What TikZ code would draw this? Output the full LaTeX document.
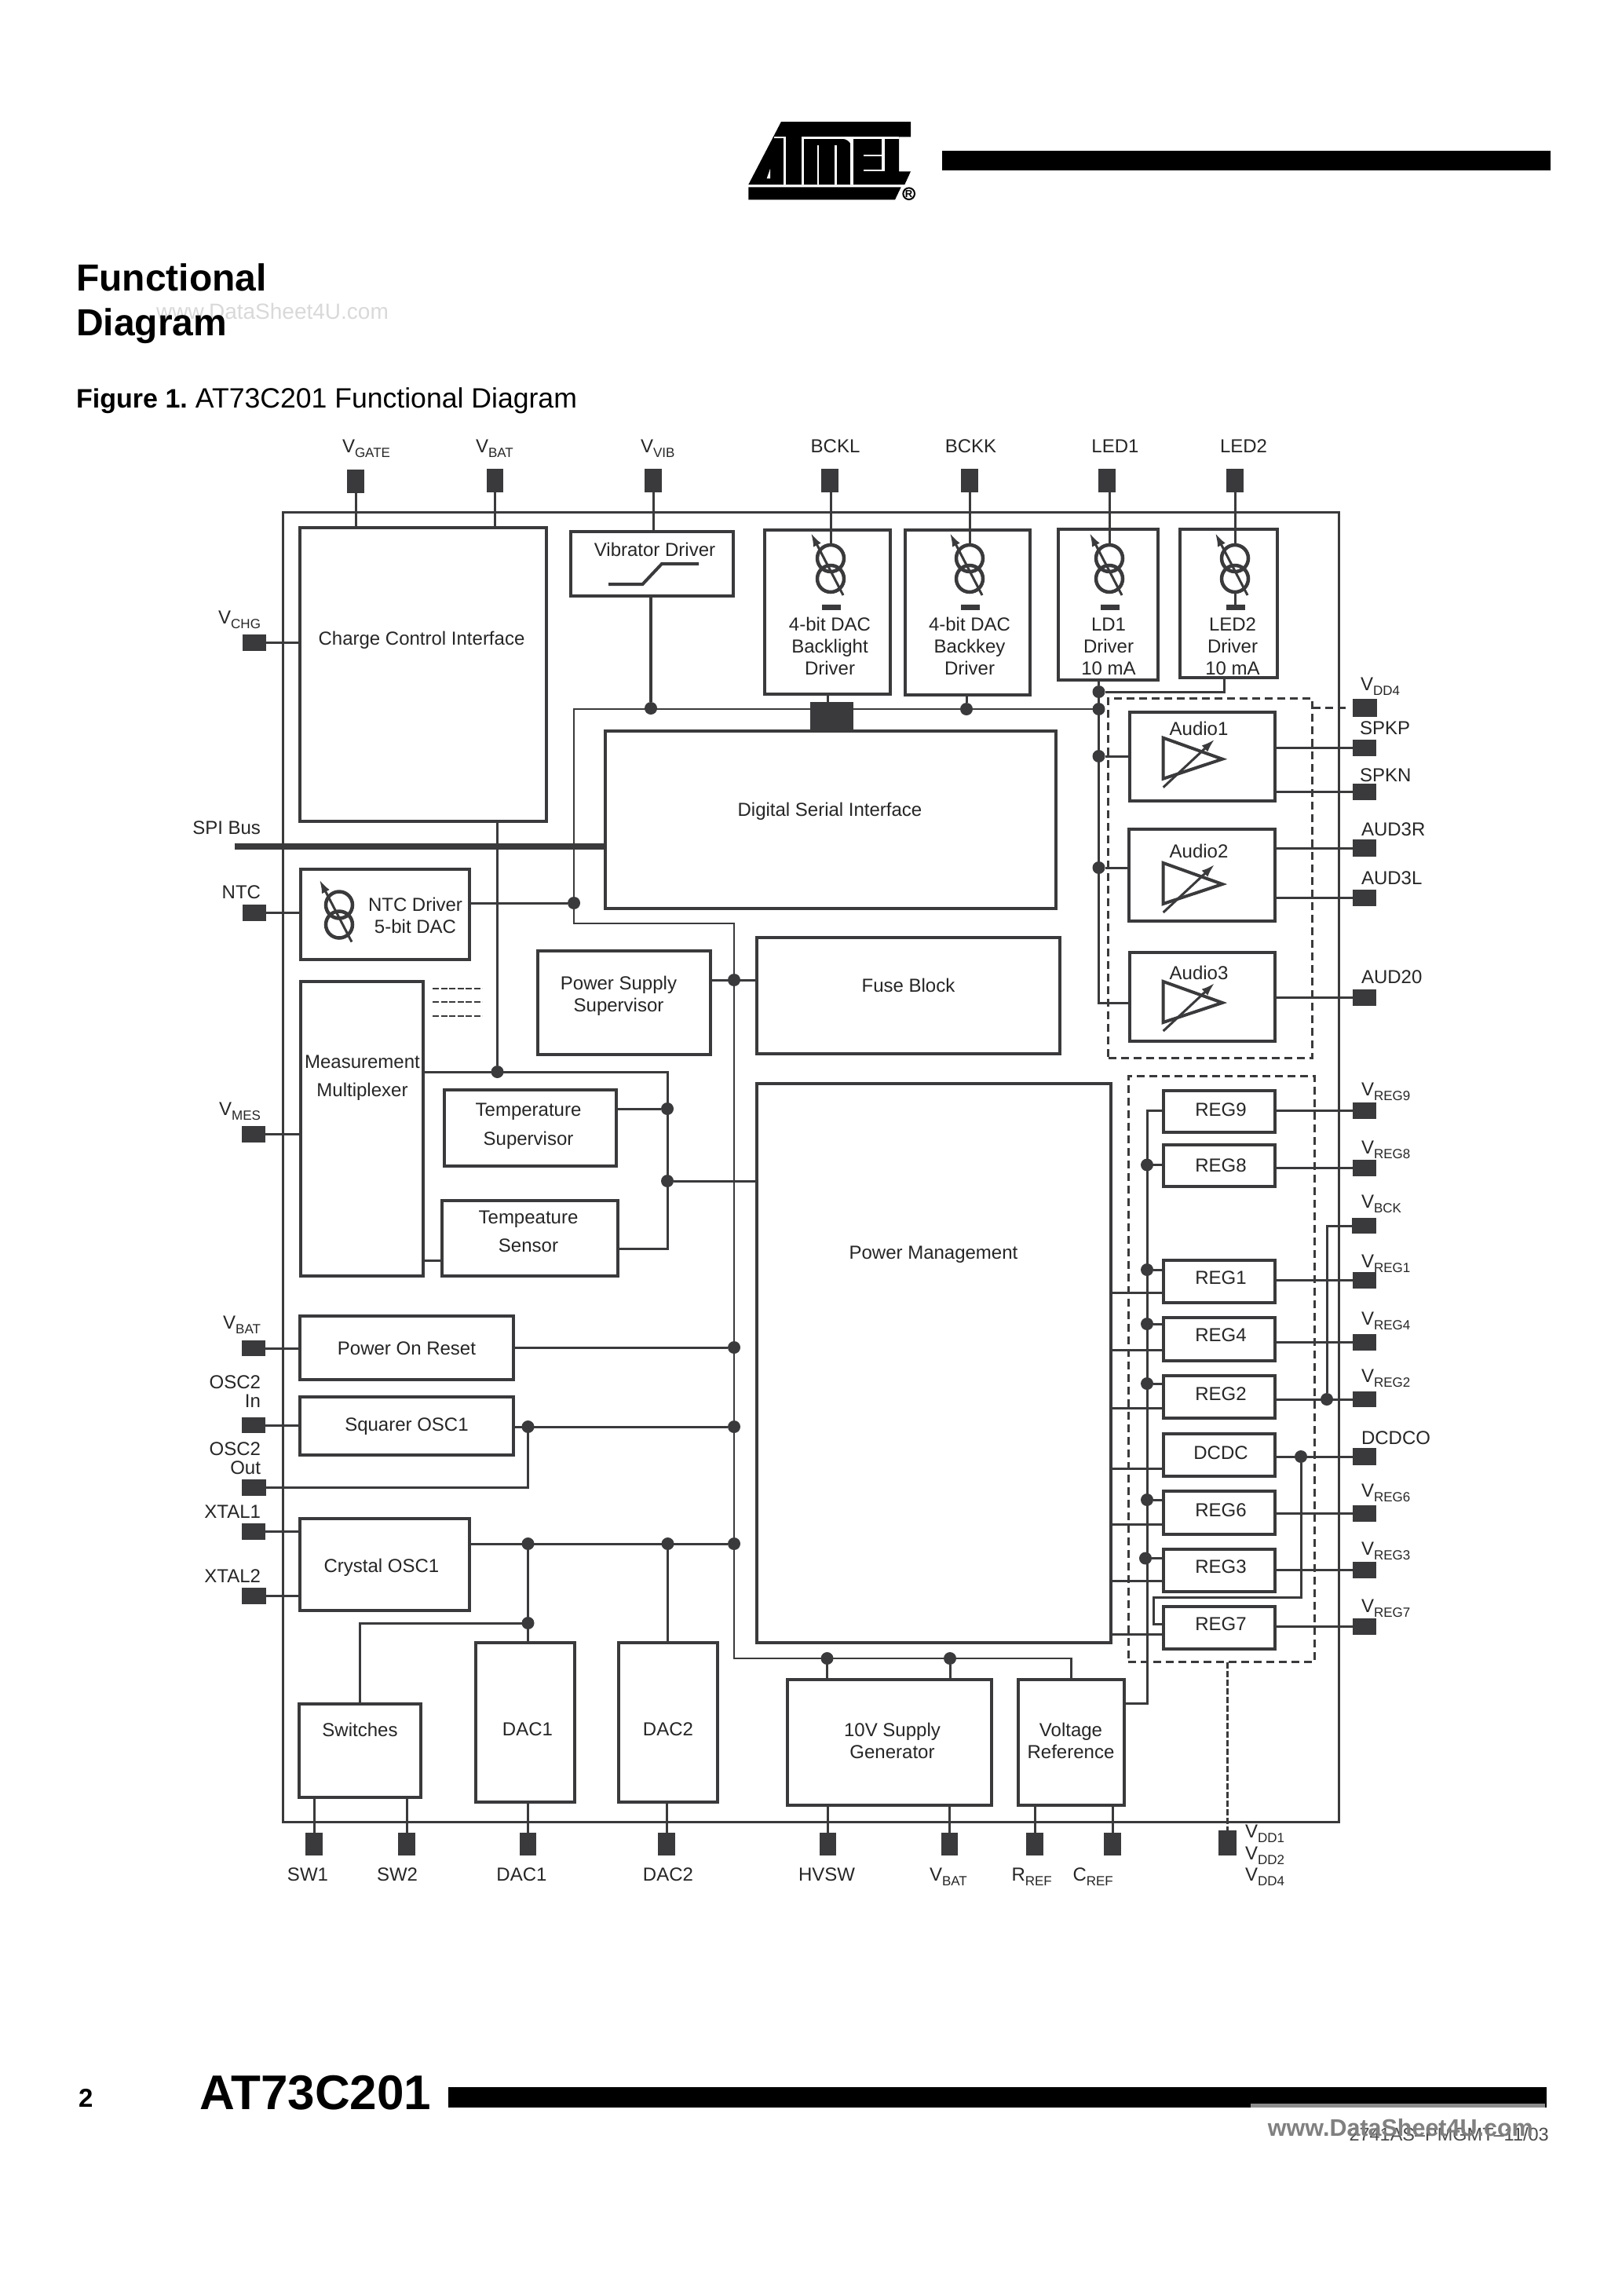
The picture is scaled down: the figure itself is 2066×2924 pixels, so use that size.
\documentclass[tikz,border=0pt]{standalone}
\usepackage{fontspec}
\setmainfont{Liberation Sans}
\usetikzlibrary{arrows.meta,calc}
\definecolor{ink}{HTML}{3A3A3C}
\definecolor{txtc}{HTML}{262626}
\tikzset{
  x=1pt,y=-1pt,
  blk/.style={draw=ink,line width=4pt,rectangle,inner sep=0pt,outer sep=0pt},
  pinblk/.style={fill=ink,rectangle,inner sep=0pt,outer sep=0pt},
  dashbox/.style={draw=ink,line width=3pt,rectangle,inner sep=0pt,outer sep=0pt,dash pattern=on 10pt off 6pt},
  wire/.style={draw=ink,line width=3pt},
  jdot/.style={circle,fill=ink,inner sep=0pt,outer sep=0pt,minimum size=16pt},
  ring/.style={circle,draw=ink,line width=4.5pt,inner sep=0pt,outer sep=0pt,minimum size=34pt},
  lbl/.style={font=\fontsize{24}{28}\selectfont,text=txtc,inner sep=0pt,outer sep=0pt,align=center},
  blbl/.style={lbl,anchor=base},
  wlbl/.style={lbl,anchor=base west},
  elbl/.style={lbl,anchor=base east},
  varrow/.style={draw=ink,line width=3pt,-{Latex[length=17pt,width=11pt]}},
  amp/.style={draw=ink,line width=4pt,miter limit=10},
}
\newcommand{\Bx}[6][blk]{\node[#1,minimum width={(#5-#3)*1pt},minimum height={(#6-#4)*1pt}] (#2) at ({(#3+#5)/2},{(#4+#6)/2}) {};}
\newcommand{\Pn}[5]{\node[pinblk,minimum width={(#4-#2)*1pt},minimum height={(#5-#3)*1pt}] (#1) at ({(#2+#4)/2},{(#3+#5)/2}) {};}
\newcommand{\Tx}[4]{\node[lbl] (#1) at (#2,#3) {#4};}
\newcommand{\Jd}[3]{\node[jdot] (#1) at (#2,#3) {};}
\newcommand{\Sbs}[2]{#1\raisebox{-6pt}{\fontsize{17}{17}\selectfont #2}}
\newcommand{\CurSrc}[4]{%
  \node[ring] (#1a) at (#2,#3) {};
  \node[ring] (#1b) at (#2,#3+#4) {};
  \coordinate (#1s) at (#2+16,#3+47);
  \coordinate (#1e) at (#2-25,#3-32);
  \draw[varrow] (#1s) -- (#1e);
}
\newcommand{\Amp}[2]{%
  \coordinate (#1p) at (1481.7,#2+33);
  \coordinate (#1q) at (1481.7,#2+85);
  \coordinate (#1r) at (1557,#2+60);
  \draw[amp] (#1p) -- (#1r) -- (#1q) -- cycle;
  \coordinate (#1s) at (1481.7,#2+96);
  \coordinate (#1e) at (1547,#2+35);
  \draw[varrow] (#1s) -- (#1e);
}
\begin{document}
\begin{tikzpicture}
\fill[white] (0,0) rectangle (2066,2924);
\useasboundingbox (0,0) rectangle (2066,2924);

% ---- logo
\begin{scope}[shift={(945,150)},x=0.33333pt,y=-0.33333pt]
  \fill[black] (150,15) -- (645,15) -- (645,73) -- (600,73) -- (600,205) -- (645,205) -- (622,255) -- (25,255) -- cycle;
  \fill[white] (122,73) rectangle (167,79);
  \fill[white] (160,73) rectangle (167,255);
  \fill[white] (228,73) rectangle (600,80);
  \fill[white] (228,73) rectangle (236,255);
  \fill[white] (288,105) rectangle (295,255);
  \fill[white] (355,105) rectangle (362,255);
  \fill[white] (385,80) -- (415,80) -- (415,100) .. controls (412,90) and (400,82) .. (385,80);
  \fill[white] (415,80) rectangle (425,255);
  \fill[white] (465,140) rectangle (535,147);
  \fill[white] (465,197) rectangle (545,205);
  \fill[white] (535,80) rectangle (545,205);
  \fill[white] (108,195) -- (95,232) -- (108,232) -- cycle;
  \fill[black] (25,265) -- (608,265) -- (585,313) -- (25,313) -- cycle;
  \draw[black,line width=2pt] (638,290) circle (22);
  \node[font=\fontsize{13}{13}\selectfont\bfseries,inner sep=0pt] (logoR) at (638,290) {R};
\end{scope}
\fill[black] (1200,192) rectangle (1975,217);

% ---- titles
\node[anchor=west,inner sep=0pt,text=black!15,font=\fontsize{28}{28}\selectfont] (wm1) at (199,396) {www.DataSheet4U.com};
\node[anchor=base west,inner sep=0pt,font=\fontsize{48}{48}\selectfont\bfseries] (title1) at (97,370) {Functional};
\node[anchor=base west,inner sep=0pt,font=\fontsize{48}{48}\selectfont\bfseries] (title2) at (97,427) {Diagram};
\node[anchor=base west,inner sep=0pt,font=\fontsize{34}{34}\selectfont] (figcap) at (97,519) {\textbf{Figure 1.}\hspace{10pt}{\fontsize{35.6}{36}\selectfont AT73C201 Functional Diagram}};

% ---- footer
\node[anchor=base west,inner sep=0pt,font=\fontsize{33}{33}\selectfont\bfseries] (pageno) at (100,2683) {2};
\node[anchor=base west,inner sep=0pt,font=\fontsize{62}{62}\selectfont\bfseries] (partno) at (254,2686) {AT73C201};
\fill[black] (571,2658) rectangle (1970,2684);
\fill[black!45] (1593,2679) rectangle (1968,2684);
\node[anchor=base east,inner sep=0pt,text=black!70,font=\fontsize{23.5}{24}\selectfont] (docno) at (1973,2726) {2741AS–PMGMT–11/03};
\node[anchor=east,inner sep=0pt,text=black!50,font=\fontsize{30.5}{30}\selectfont\bfseries] (wm2) at (1953,2710) {www.DataSheet4U.com};

% ---- frame
\Bx[draw=ink,line width=3pt,rectangle,inner sep=0pt,outer sep=0pt]{frame}{360}{652}{1705}{2320}

% ---- blocks
\Bx{cci}{382}{672}{695.5}{1046}
\Bx{vib}{727}{676.5}{933.5}{759}
\Bx{bckl}{974}{675}{1134}{884}
\Bx{bckk}{1152.5}{675}{1312}{885}
\Bx{ldone}{1347.5}{673.5}{1475}{866}
\Bx{ledtwo}{1503}{673.5}{1627}{863}
\Bx{dsi}{771}{931}{1345}{1156.5}
\Bx{ntc}{383}{1107}{597.5}{1221.5}
\Bx{mux}{383}{1249.5}{539}{1625}
\Bx{tsup}{566}{1388}{785}{1485}
\Bx{tsens}{563}{1528.5}{787}{1625}
\Bx{psup}{685}{1211}{905}{1342.5}
\Bx{fuse}{964}{1194}{1350}{1342}
\Bx{pm}{964}{1380}{1415}{2092}
\Bx{por}{382}{1676}{654}{1757}
\Bx{sq}{382}{1778.5}{654}{1853}
\Bx{crys}{382}{1933.5}{597.5}{2051}
\Bx{sw}{380.5}{2169.5}{535.5}{2289}
\Bx{dacone}{606}{2092}{732}{2295}
\Bx{dactwo}{787.5}{2092}{913.5}{2295}
\Bx{tenv}{1003}{2139}{1263}{2299}
\Bx{vref}{1297}{2139}{1431.5}{2299}
\Bx{aone}{1439}{906.5}{1624}{1020}
\Bx{atwo}{1438}{1055.5}{1624}{1173}
\Bx{athree}{1439}{1212.5}{1624}{1326}
\Bx{rnine}{1482}{1389}{1624}{1441.5}
\Bx{reight}{1482}{1457.5}{1624}{1511}
\Bx{rone}{1482}{1604.5}{1624}{1658.5}
\Bx{rfour}{1482}{1678}{1624}{1733}
\Bx{rtwo}{1482}{1751.5}{1624}{1806}
\Bx{dcdc}{1482}{1825.5}{1624}{1880}
\Bx{rsix}{1482}{1899}{1624}{1953.5}
\Bx{rthree}{1482}{1972.5}{1624}{2027}
\Bx{rseven}{1482}{2046}{1624}{2099.5}
\Bx[dashbox]{dashA}{1411.5}{889.5}{1671.5}{1347}
\Bx[dashbox]{dashB}{1437}{1370}{1674}{2116.5}

% ---- pins
\Pn{pgate}{442}{598}{464}{627.5}
\Pn{pbat}{620}{597}{641}{627}
\Pn{pvib}{821}{597}{843}{627}
\Pn{pbckl}{1046}{597}{1068}{627}
\Pn{pbckk}{1224}{597}{1246}{627}
\Pn{pledone}{1399}{597}{1421}{627}
\Pn{pledtwo}{1562}{597}{1584}{627}
\Pn{pchg}{309}{808}{339}{828.5}
\Pn{pntc}{309}{1152}{339}{1172.5}
\Pn{pmes}{308}{1434}{338}{1455}
\Pn{pbatl}{308}{1707}{338}{1727}
\Pn{poscin}{308}{1805}{338}{1825}
\Pn{poscout}{308}{1884}{339}{1905}
\Pn{pxone}{308}{1940}{338}{1961}
\Pn{pxtwo}{308}{2022}{339}{2043}
\Pn{pswone}{389}{2333.5}{411}{2362.5}
\Pn{pswtwo}{507}{2333.5}{529}{2362.5}
\Pn{pdacone}{662}{2333.5}{683}{2362.5}
\Pn{pdactwo}{838}{2333.5}{860}{2362.5}
\Pn{phvsw}{1044}{2333.5}{1065}{2362.5}
\Pn{pbatb}{1199}{2333.5}{1220}{2362.5}
\Pn{prref}{1307}{2333.5}{1329}{2362.5}
\Pn{pcref}{1406}{2333.5}{1428}{2362.5}
\Pn{pvdd}{1552}{2331}{1575}{2363}
\Pn{pvddf}{1723}{890}{1754}{913}
\Pn{pspkp}{1723}{942}{1753}{963}
\Pn{pspkn}{1723}{998}{1753}{1019}
\Pn{paudr}{1723}{1069}{1753}{1091}
\Pn{paudl}{1723}{1133}{1753}{1154}
\Pn{paudz}{1723}{1260}{1753}{1281}
\Pn{pregnine}{1723}{1404}{1753}{1425}
\Pn{pregeight}{1723}{1477}{1753}{1498}
\Pn{pbck}{1722}{1551}{1753}{1571}
\Pn{pregone}{1723}{1620}{1753}{1641}
\Pn{pregfour}{1723}{1699}{1753}{1720}
\Pn{pregtwo}{1723}{1772}{1753}{1792}
\Pn{pdcdc}{1723}{1844}{1753}{1866}
\Pn{pregsix}{1723}{1917}{1753}{1937.5}
\Pn{pregthree}{1723}{1989}{1753}{2010}
\Pn{pregseven}{1723}{2061}{1753}{2081.5}
\Pn{dsilink}{1032}{894}{1087}{931}

% ---- junction dots
\Jd{dvib}{829}{902}
\Jd{dbk}{1231}{903}
\Jd{dledtop}{1399.5}{881}
\Jd{dbus}{1399.5}{903}
\Jd{daudone}{1399.5}{963}
\Jd{daudtwo}{1399.5}{1105}
\Jd{dntc}{731}{1150}
\Jd{dpsup}{935}{1248}
\Jd{dmux}{633.5}{1365}
\Jd{dtsup}{850}{1412}
\Jd{dpmt}{850}{1504}
\Jd{dpor}{935}{1716}
\Jd{dsqa}{672.5}{1817}
\Jd{dsqb}{935}{1817}
\Jd{dcra}{672.5}{1966}
\Jd{dcrb}{850.5}{1966}
\Jd{dcrc}{935}{1966}
\Jd{dsw}{672.5}{2067}
\Jd{dtena}{1053.5}{2112}
\Jd{dtenb}{1210}{2112}
\Jd{dreight}{1461}{1483.5}
\Jd{drone}{1461}{1617}
\Jd{drfour}{1461}{1686}
\Jd{drtwo}{1461}{1762}
\Jd{drsix}{1461}{1910}
\Jd{drthree}{1459}{1984.5}
\Jd{dregtwo}{1690}{1782}
\Jd{ddcdc}{1657}{1855}

% ---- free coordinates
\coordinate (busA) at (731,903);
\coordinate (busB) at (731,1176);
\coordinate (busC) at (935,1176);
\coordinate (busD) at (935,2112);
\coordinate (ledout) at (1559.5,863);
\coordinate (athreein) at (1439,1277);
\coordinate (spi) at (299,1078);
\coordinate (tsret) at (850,1590);
\coordinate (msl) at (539,1605);
\coordinate (rbus) at (1461,1414.5);
\coordinate (vrefo) at (1431.5,2169);
\coordinate (dcA) at (1469,2034.5);
\coordinate (dcB) at (1482,2068);
\coordinate (vdddash) at (1671.5,901);
\coordinate (vdddashe) at (1717,901);
\coordinate (rampa) at (775,744);
\coordinate (rampb) at (818.5,744);
\coordinate (rampc) at (843,718);
\coordinate (rampd) at (890,718);

% ---- top connectors
\draw[wire] (pgate) -- (pgate |- cci.north);
\draw[wire] (pbat) -- (pbat |- cci.north);
\draw[wire] (pvib) -- (pvib |- vib.north);
\CurSrc{sa}{1058}{711}{26}
\CurSrc{sb}{1235}{711}{26}
\CurSrc{sc}{1413}{711}{26}
\CurSrc{sd}{1573}{711}{26}
\CurSrc{se}{432}{1152.5}{25}
\draw[wire] (saa.north) -- (saa.north |- pbckl.center);
\draw[wire] (sba.north) -- (sba.north |- pbckk.center);
\draw[wire] (sca.north) -- (sca.north |- pledone.center);
\draw[wire] (sda.north) -- (sda.north |- pledtwo.center);
\node[pinblk,minimum width=24pt,minimum height=7pt] (bara) at (1059,773.5) {};
\node[pinblk,minimum width=24pt,minimum height=7pt] (barb) at (1236,773.5) {};
\node[pinblk,minimum width=24pt,minimum height=7pt] (barc) at (1414,773.5) {};
\node[pinblk,minimum width=24pt,minimum height=7pt] (bard) at (1574,773.5) {};
\draw[wire] (sdb.south) -- (bard.north -| sdb.south);
\draw[amp] (rampa) -- (rampb) -- (rampc) -- (rampd);
\draw[draw=ink,line width=4pt] (dvib |- vib.south) -- (dvib);
\draw[wire] (bckl.south) -- (bckl.south |- dsilink.north);
\draw[wire] (dbk |- bckk.south) -- (dbk);
\draw[wire] (ledout) |- (dledtop);
\draw[wire] (dledtop |- ldone.south) -- (dledtop);
\draw[line width=2.6pt,draw=ink] (dbus) -- (busA) -- (busB) -- (busC) -- (busD) -| (vref.north);
\draw[wire] (dledtop) |- (athreein);
\draw[wire] (daudone) -- (daudone -| aone.west);
\draw[wire] (daudtwo) -- (daudtwo -| atwo.west);

% ---- audio
\Amp{ampa}{906.7}
\Amp{ampb}{1066}
\Amp{ampc}{1217}
\draw[wire] (pspkp) -- (pspkp -| aone.east);
\draw[wire] (pspkn) -- (pspkn -| aone.east);
\draw[wire] (paudr) -- (paudr -| atwo.east);
\draw[wire] (paudl) -- (paudl -| atwo.east);
\draw[wire] (paudz) -- (paudz -| athree.east);
\draw[draw=ink,line width=3pt,dash pattern=on 10pt off 6pt] (vdddash) -- (vdddashe);

% ---- left side
\draw[line width=8pt,draw=ink] (spi) -- (spi -| dsi.west);
\draw[wire] (pchg) -- (pchg -| cci.west);
\draw[wire] (pntc) -- (pntc -| ntc.west);
\draw[wire] (pmes) -- (pmes -| mux.west);
\draw[wire] (pbatl) -- (pbatl -| por.west);
\draw[wire] (poscin) -- (poscin -| sq.west);
\draw[wire] (pxone) -- (pxone -| crys.west);
\draw[wire] (pxtwo) -- (pxtwo -| crys.west);
\draw[wire] (dntc -| ntc.east) -- (dntc);
\draw[wire] (dmux |- cci.south) -- (dmux);
\draw[wire] (dmux -| mux.east) -- (dmux -| tsret) -- (tsret) -- (tsret -| tsens.east);
\draw[wire] (dtsup -| tsup.east) -- (dtsup);
\draw[wire] (dpmt) -- (dpmt -| pm.west);
\draw[wire] (msl) -- (msl -| tsens.west);
\draw[wire] (dpsup -| psup.east) -- (dpsup -| fuse.west);
\draw[wire] (dpor -| por.east) -- (dpor);
\draw[wire] (dsqa -| sq.east) -- (dsqb);
\draw[wire] (dsqa) |- (poscout);
\draw[wire] (dcrc -| crys.east) -- (dcrc);
\draw[wire] (dcra) -- (dcra |- dacone.north);
\draw[wire] (dcrb) -- (dcrb |- dactwo.north);
\draw[wire] (dsw) -| (sw.north);
\draw[draw=ink,line width=2pt,dash pattern=on 8pt off 2.5pt] (551,1259) -- (614,1259);
\draw[draw=ink,line width=2pt,dash pattern=on 8pt off 2.5pt] (551,1276) -- (614,1276);
\draw[draw=ink,line width=2pt,dash pattern=on 8pt off 2.5pt] (551,1294) -- (614,1294);

% ---- bottom
\draw[wire] (pswone) -- (pswone |- sw.south);
\draw[wire] (pswtwo) -- (pswtwo |- sw.south);
\draw[wire] (pdacone) -- (pdacone |- dacone.south);
\draw[wire] (pdactwo) -- (pdactwo |- dactwo.south);
\draw[wire] (dtena) -- (dtena |- tenv.north);
\draw[wire] (dtenb) -- (dtenb |- tenv.north);
\draw[wire] (phvsw) -- (phvsw |- tenv.south);
\draw[wire] (pbatb) -- (pbatb |- tenv.south);
\draw[wire] (prref) -- (prref |- vref.south);
\draw[wire] (pcref) -- (pcref |- vref.south);
\draw[draw=ink,line width=3pt,dash pattern=on 8pt off 3pt] (dashB.south -| pvdd) -- (pvdd);

% ---- regulators
\draw[wire] (rbus -| rnine.west) -- (rbus) |- (vrefo);
\draw[wire] (dreight) -- (dreight -| reight.west);
\draw[wire] (drone) -- (drone -| rone.west);
\draw[wire] (drfour) -- (drfour -| rfour.west);
\draw[wire] (drtwo) -- (drtwo -| rtwo.west);
\draw[wire] (drsix) -- (drsix -| rsix.west);
\draw[wire] (drthree) -- (drthree -| rthree.west);
\foreach \yy/\rr/\nn in {1646.5/rone/a,1719/rfour/b,1793/rtwo/c,1870/dcdc/d,1941/rsix/e,2013/rthree/f,2081/rseven/g}{
  \coordinate (pmo\nn) at (1415,\yy);
  \draw[wire] (pmo\nn) -- (pmo\nn -| \rr.west);
}
\draw[wire] (pregnine) -- (pregnine -| rnine.east);
\draw[wire] (pregeight) -- (pregeight -| reight.east);
\draw[wire] (pregone) -- (pregone -| rone.east);
\draw[wire] (pregfour) -- (pregfour -| rfour.east);
\draw[wire] (pregtwo) -- (pregtwo -| rtwo.east);
\draw[wire] (pdcdc) -- (pdcdc -| dcdc.east);
\draw[wire] (pregsix) -- (pregsix -| rsix.east);
\draw[wire] (pregthree) -- (pregthree -| rthree.east);
\draw[wire] (pregseven) -- (pregseven -| rseven.east);
\draw[wire] (pbck) -| (dregtwo);
\draw[wire] (ddcdc) |- (dcA) |- (dcB);

% ---- block texts
\Tx{tcci}{537}{815.5}{Charge Control Interface}
\Tx{tvib}{834}{700}{Vibrator Driver}
\Tx{tbckl}{1057}{823}{4-bit DAC\\Backlight\\Driver}
\Tx{tbckk}{1235}{823}{4-bit DAC\\Backkey\\Driver}
\Tx{tldone}{1412}{823}{LD1\\Driver\\10 mA}
\Tx{tledtwo}{1570}{823}{LED2\\Driver\\10 mA}
\Tx{tdsi}{1057}{1033}{Digital Serial Interface}
\Tx{tntc}{529}{1165.5}{NTC Driver\\5-bit DAC}
\Tx{tmux}{461.5}{1372.5}{Measurement\\[8pt]Multiplexer}
\Tx{ttsup}{673}{1434}{Temperature\\[9pt]Supervisor}
\Tx{ttsens}{673}{1568}{Tempeature\\[8pt]Sensor}
\Tx{tpsup}{788}{1268.5}{Power Supply\\Supervisor}
\Tx{tfuse}{1157}{1255}{Fuse Block}
\Tx{tpm}{1189}{1598}{Power Management}
\Tx{tpor}{518}{1717}{Power On Reset}
\Tx{tsq}{518}{1817}{Squarer OSC1}
\Tx{tcrys}{486}{1996}{Crystal OSC1}
\Tx{tsw}{458.5}{2203}{Switches}
\Tx{tdaca}{672}{2202}{DAC1}
\Tx{tdacb}{851}{2202}{DAC2}
\Tx{tten}{1136.5}{2216.5}{10V Supply\\Generator}
\Tx{tvref}{1364}{2216.5}{Voltage\\Reference}
\Tx{taudA}{1527}{928}{Audio1}
\Tx{taudB}{1527}{1084}{Audio2}
\Tx{taudC}{1527}{1239}{Audio3}
\Tx{trnine}{1555}{1413}{REG9}
\Tx{treight}{1555}{1484}{REG8}
\Tx{trone}{1555}{1627}{REG1}
\Tx{trfour}{1555}{1700}{REG4}
\Tx{trtwo}{1555}{1775}{REG2}
\Tx{tdcdc}{1555}{1850}{DCDC}
\Tx{trsix}{1555}{1923}{REG6}
\Tx{trthree}{1555}{1995}{REG3}
\Tx{trseven}{1555}{2068}{REG7}

% ---- pin labels
\node[wlbl] (lgate) at (436,576) {\Sbs{V}{GATE}};
\node[wlbl] (lbat) at (606,576) {\Sbs{V}{BAT}};
\node[wlbl] (lvib) at (816,576) {\Sbs{V}{VIB}};
\node[blbl] (lbckl) at (1064,576.5) {BCKL};
\node[blbl] (lbckk) at (1236.5,576.5) {BCKK};
\node[blbl] (lledo) at (1420.5,576.5) {LED1};
\node[blbl] (lledt) at (1584,576.5) {LED2};
\node[elbl] (lchg) at (332,794) {\Sbs{V}{CHG}};
\node[elbl] (lspi) at (332,1062) {SPI Bus};
\node[elbl] (lntc) at (332,1144.5) {NTC};
\node[elbl] (lmes) at (332,1420) {\Sbs{V}{MES}};
\node[elbl] (lbatl) at (332,1692.5) {\Sbs{V}{BAT}};
\node[lbl,anchor=east,align=right,font=\fontsize{24}{24}\selectfont] (losci) at (332,1772) {OSC2\\In};
\node[lbl,anchor=east,align=right,font=\fontsize{24}{24}\selectfont] (losco) at (332,1857.5) {OSC2\\Out};
\node[elbl] (lxo) at (332,1933.5) {XTAL1};
\node[elbl] (lxt) at (332,2015.5) {XTAL2};
\node[wlbl] (lvddf) at (1733,879) {\Sbs{V}{DD4}};
\node[wlbl] (lspkp) at (1732,935.5) {SPKP};
\node[wlbl] (lspkn) at (1732,995.5) {SPKN};
\node[wlbl] (laudr) at (1734,1064.5) {AUD3R};
\node[wlbl] (laudl) at (1734,1126.5) {AUD3L};
\node[wlbl] (laudz) at (1734,1252.5) {AUD20};
\node[wlbl] (lrn) at (1734,1395.5) {\Sbs{V}{REG9}};
\node[wlbl] (lre) at (1734,1469) {\Sbs{V}{REG8}};
\node[wlbl] (lbck) at (1734,1538) {\Sbs{V}{BCK}};
\node[wlbl] (lro) at (1734,1614) {\Sbs{V}{REG1}};
\node[wlbl] (lrf) at (1734,1687) {\Sbs{V}{REG4}};
\node[wlbl] (lrt) at (1734,1760) {\Sbs{V}{REG2}};
\node[wlbl] (ldc) at (1734,1839) {DCDCO};
\node[wlbl] (lrs) at (1734,1906.5) {\Sbs{V}{REG6}};
\node[wlbl] (lrh) at (1734,1980) {\Sbs{V}{REG3}};
\node[wlbl] (lrv) at (1734,2053) {\Sbs{V}{REG7}};
\node[blbl] (lswo) at (392,2395.5) {SW1};
\node[blbl] (lswt) at (506,2395.5) {SW2};
\node[blbl] (ldao) at (664.5,2395.5) {DAC1};
\node[blbl] (ldat) at (851,2395.5) {DAC2};
\node[blbl] (lhv) at (1053,2395.5) {HVSW};
\node[wlbl] (lbatb) at (1184,2395.5) {\Sbs{V}{BAT}};
\node[wlbl] (lrr) at (1288.5,2395.5) {\Sbs{R}{REF}};
\node[wlbl] (lcr) at (1366.5,2395.5) {\Sbs{C}{REF}};
\node[wlbl] (lvo) at (1586,2340) {\Sbs{V}{DD1}};
\node[wlbl] (lvt) at (1586,2368) {\Sbs{V}{DD2}};
\node[wlbl] (lvf) at (1586,2395.5) {\Sbs{V}{DD4}};
\end{tikzpicture}
\end{document}
